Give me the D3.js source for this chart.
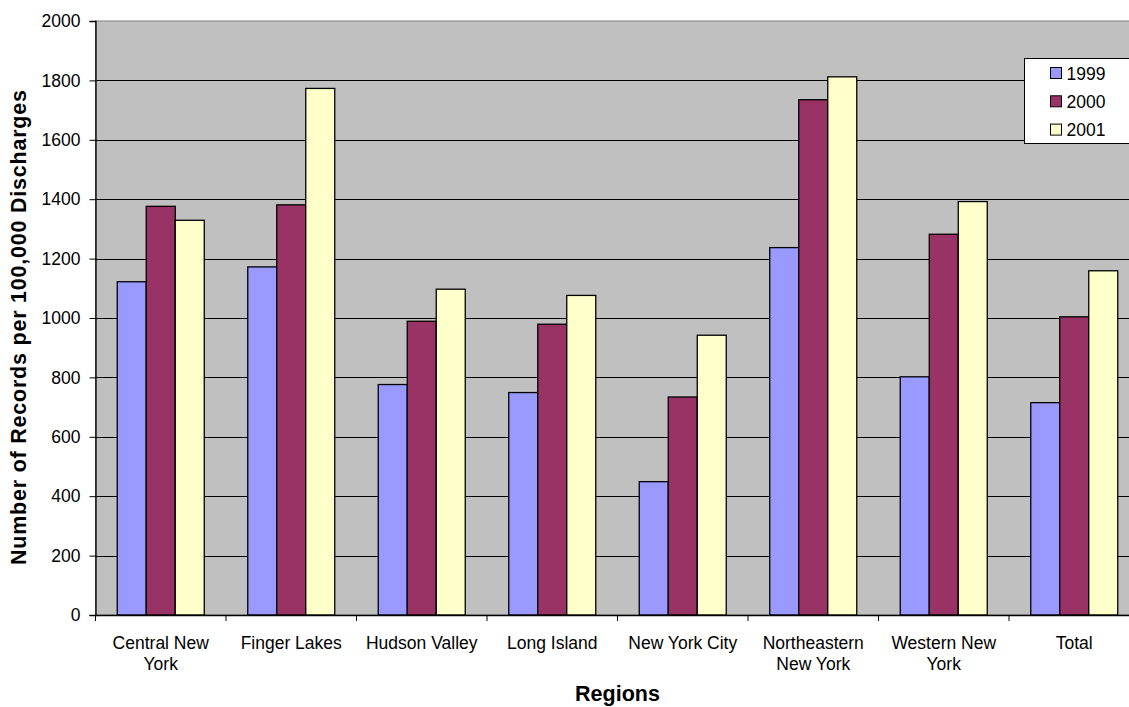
<!DOCTYPE html>
<html>
<head>
<meta charset="utf-8">
<script src="https://cdn.jsdelivr.net/npm/d3@7"></script>
<style>
  html, body { margin: 0; padding: 0; background: #fff; }
  svg { display: block; font-family: "Liberation Sans", Arial, sans-serif; }
</style>
</head>
<body>
<svg id="chart" width="1129" height="707"></svg>
<script>
const categories = ["Central New York", "Finger Lakes", "Hudson Valley", "Long Island",
  "New York City", "Northeastern New York", "Western New York", "Total"];
const seriesNames = ["1999", "2000", "2001"];
const values1999 = [1122, 1172, 776, 749, 449, 1237, 802, 715];
const values2000 = [1376, 1381, 989, 979, 734, 1735, 1282, 1004];
const values2001 = [1329, 1773, 1097, 1076, 942, 1812, 1392, 1159];
const yTicks = [0, 200, 400, 600, 800, 1000, 1200, 1400, 1600, 1800, 2000];
const colors = ["#9999FF", "#993366", "#FFFFCC"];
const xTitle = "Regions";
const yTitle = "Number of Records per 100,000 Discharges";

const seriesValues = [values1999, values2000, values2001];

const svg = d3.select("#chart");
const plot = { left: 95.5, right: 1139.5, top: 21, bottom: 615 };

const x0 = d3.scaleBand().domain(categories).range([plot.left, plot.right]).padding(0);
const x1 = d3.scaleBand().domain(seriesNames).range([0, x0.bandwidth()])
  .paddingInner(0).paddingOuter(0.75);
const y = d3.scaleLinear().domain([0, 2000]).range([plot.bottom, plot.top]);

// plot background
svg.append("rect")
  .attr("x", plot.left).attr("y", plot.top)
  .attr("width", plot.right - plot.left).attr("height", plot.bottom - plot.top)
  .attr("fill", "#C0C0C0").attr("stroke", "#808080").attr("stroke-width", 1);

// gridlines
svg.append("g").selectAll("line").data(yTicks.filter(d => d > 0 && d < 2000)).join("line")
  .attr("x1", plot.left).attr("x2", plot.right)
  .attr("y1", d => Math.round(y(d)) + 0.5).attr("y2", d => Math.round(y(d)) + 0.5)
  .attr("stroke", "#000").attr("stroke-width", 1);

// bars
const groups = svg.append("g").selectAll("g").data(categories).join("g")
  .attr("transform", d => `translate(${x0(d)},0)`);
groups.selectAll("rect")
  .data((c, i) => seriesNames.map((s, j) => ({ s, j, v: seriesValues[j][i] })))
  .join("rect")
  .attr("x", d => x1(d.s))
  .attr("y", d => y(d.v))
  .attr("width", x1.bandwidth())
  .attr("height", d => y(0) - y(d.v))
  .attr("fill", d => colors[d.j])
  .attr("stroke", "#000").attr("stroke-width", 1.3);

// y axis
const yAxis = d3.axisLeft(y).tickValues(yTicks).tickSize(6).tickPadding(9).tickFormat(d3.format("d"));
const gy = svg.append("g").attr("transform", `translate(${plot.left},0)`).call(yAxis);
gy.select(".domain").attr("stroke", "#000").attr("stroke-width", 1.3);
gy.selectAll(".tick line").attr("stroke", "#000");
gy.selectAll(".tick text").attr("font-size", "17.5px").attr("fill", "#000")
  .attr("font-family", "Liberation Sans, Arial, sans-serif");

// x axis
const xAxis = d3.axisBottom(x0).tickSize(0).tickFormat(() => "");
const gx = svg.append("g").attr("transform", `translate(0,${plot.bottom})`).call(xAxis);
gx.select(".domain").attr("stroke", "#000").attr("stroke-width", 1.3);
// boundary ticks
gx.append("g").selectAll("line").data(categories).join("line")
  .attr("x1", d => x0(d)).attr("x2", d => x0(d))
  .attr("y1", 0).attr("y2", 6).attr("stroke", "#000");

// category labels with wrapping
const labelG = svg.append("g").attr("font-size", "17.5px").attr("fill", "#000")
  .attr("text-anchor", "middle");
categories.forEach(c => {
  const t = labelG.append("text").attr("x", x0(c) + x0.bandwidth() / 2).attr("y", 649);
  const words = c.split(" ");
  let line = [];
  let lines = [];
  const tmp = t.append("tspan");
  words.forEach(w => {
    line.push(w);
    tmp.text(line.join(" "));
    if (tmp.node().getComputedTextLength() > 122 && line.length > 1) {
      line.pop();
      lines.push(line.join(" "));
      line = [w];
    }
  });
  lines.push(line.join(" "));
  tmp.remove();
  lines.forEach((l, i) => {
    t.append("tspan").attr("x", x0(c) + x0.bandwidth() / 2)
      .attr("dy", i === 0 ? 0 : 21).text(l);
  });
});

// axis titles
svg.append("text")
  .attr("x", (plot.left + plot.right) / 2).attr("y", 701)
  .attr("text-anchor", "middle").attr("font-weight", "bold").attr("font-size", "21.5px")
  .text(xTitle);

svg.append("text")
  .attr("transform", "translate(26,327.5) rotate(-90)")
  .attr("text-anchor", "middle").attr("font-weight", "bold").attr("font-size", "21.5px")
  .attr("textLength", 475).attr("lengthAdjust", "spacing")
  .text(yTitle);

// legend
const lg = svg.append("g").attr("transform", "translate(1024.5,58.5)");
lg.append("rect").attr("width", 120).attr("height", 85)
  .attr("fill", "#fff").attr("stroke", "#000").attr("stroke-width", 1);
const items = lg.selectAll("g").data(seriesNames).join("g")
  .attr("transform", (d, i) => `translate(0,${i * 28.3})`);
items.append("rect").attr("x", 26).attr("y", 9).attr("width", 11).attr("height", 11)
  .attr("fill", (d, i) => colors[i]).attr("stroke", "#000").attr("stroke-width", 1);
items.append("text").attr("x", 42).attr("y", 21).attr("font-size", "17.5px")
  .attr("fill", "#000").text(d => d);
</script>
</body>
</html>
